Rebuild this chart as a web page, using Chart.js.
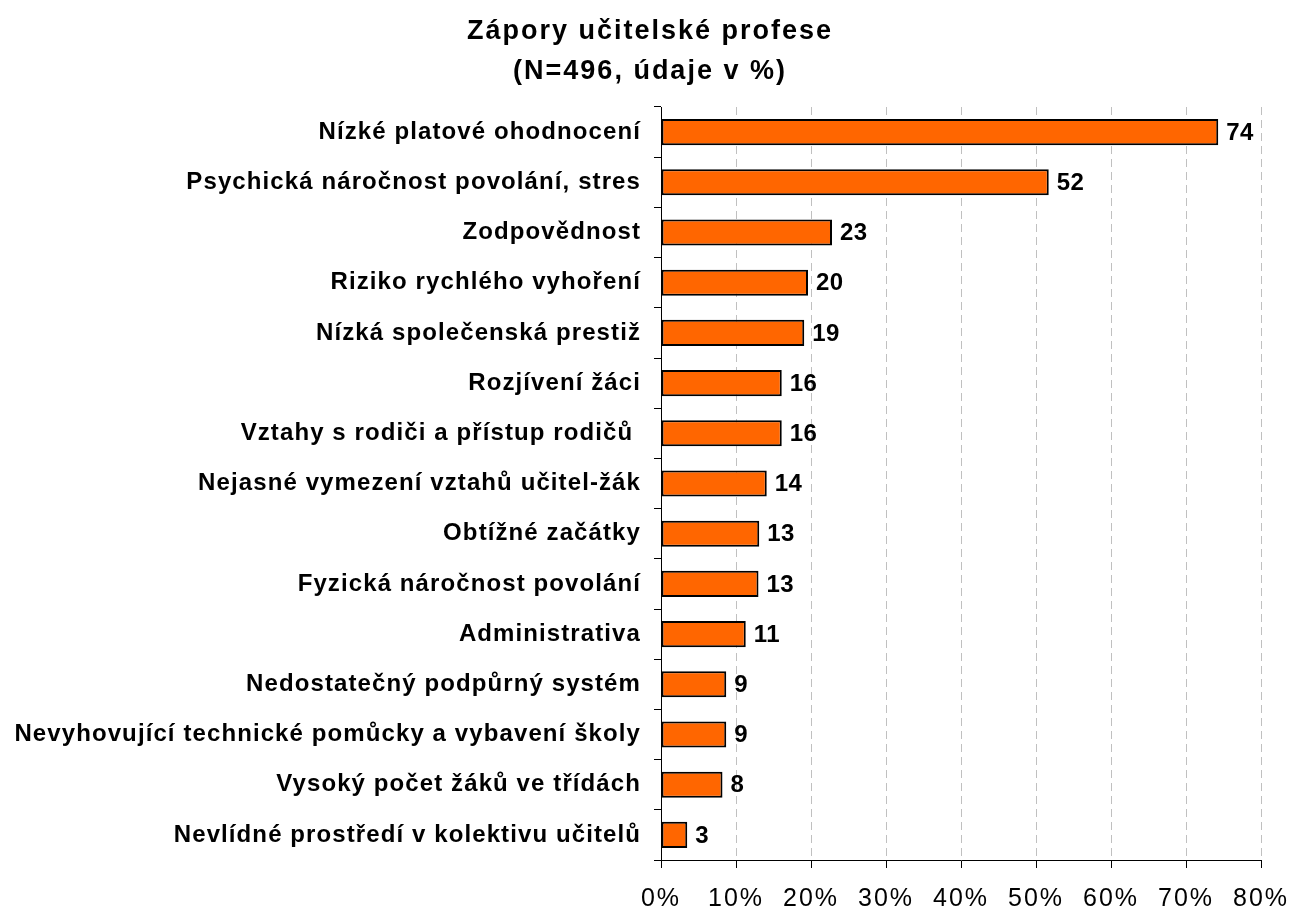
<!DOCTYPE html>
<html>
<head>
<meta charset="utf-8">
<script src="https://cdn.jsdelivr.net/npm/chart.js@4.4.0/dist/chart.umd.min.js"></script>
<style>
  html, body { margin: 0; padding: 0; background: #fff; }
  #wrap { width: 1292px; height: 911px; }
</style>
</head>
<body>
<div id="wrap"><canvas id="chart" width="1292" height="911"></canvas></div>
<script>
// Zápory učitelské profese - horizontal bar chart

const categories = [
    'Nízké platové ohodnocení',
    'Psychická náročnost povolání, stres',
    'Zodpovědnost',
    'Riziko rychlého vyhoření',
    'Nízká společenská prestiž',
    'Rozjívení žáci',
    'Vztahy s rodiči a přístup rodičů ',
    'Nejasné vymezení vztahů učitel-žák',
    'Obtížné začátky',
    'Fyzická náročnost povolání',
    'Administrativa',
    'Nedostatečný podpůrný systém',
    'Nevyhovující technické pomůcky a vybavení školy',
    'Vysoký počet žáků ve třídách',
    'Nevlídné prostředí v kolektivu učitelů'
];

// bar lengths (percent)
const values = [74.3, 51.7, 22.8, 19.6, 19.1, 16.1, 16.1, 14.1, 13.1, 13.0, 11.3, 8.7, 8.7, 8.2, 3.5];

// labels printed next to the bars
const valueLabels = ['74', '52', '23', '20', '19', '16', '16', '14', '13', '13', '11', '9', '9', '8', '3'];

const xTicks = [0, 10, 20, 30, 40, 50, 60, 70, 80];

const FONT = "'Liberation Sans', Arial, sans-serif";

// the original text is a bit spaced out, so give title and tick labels some letter spacing
function withSpacing(obj, method, ls) {
    const orig = obj[method];
    obj[method] = function(...args) {
        const ctx = this.ctx;
        ctx.save();
        ctx.letterSpacing = ls;
        orig.apply(this, args);
        ctx.restore();
    };
}

const spacing = {
    id: 'spacing',
    beforeDraw(chart) {
        if (chart._spaced) return;
        withSpacing(chart.titleBlock, 'draw', '2px');
        withSpacing(chart.scales.x, 'drawLabels', '2px');
        withSpacing(chart.scales.y, 'drawLabels', '1.1px');
        chart._spaced = true;
    }
};

// draws the number at the end of every bar
const barLabels = {
    id: 'barLabels',
    afterDatasetsDraw(chart) {
        const ctx = chart.ctx;
        const meta = chart.getDatasetMeta(0);
        ctx.save();
        ctx.font = 'bold 24px ' + FONT;
        ctx.letterSpacing = '0.5px';
        ctx.fillStyle = '#000';
        ctx.textAlign = 'left';
        ctx.textBaseline = 'middle';
        meta.data.forEach((bar, i) => {
            ctx.fillText(valueLabels[i], bar.x + 8, bar.y + 1);
        });
        ctx.restore();
    }
};

new Chart(document.getElementById('chart').getContext('2d'), {
    type: 'bar',
    data: {
        labels: categories,
        datasets: [{
            data: values,
            backgroundColor: '#FF6600',
            borderColor: '#000000',
            borderWidth: 2,
            borderSkipped: false,
            categoryPercentage: 1,
            barPercentage: 0.52
        }]
    },
    options: {
        indexAxis: 'y',
        responsive: false,
        animation: false,
        events: [],
        layout: {
            padding: { left: 8, right: 0, top: 0, bottom: 0 }
        },
        plugins: {
            legend: { display: false },
            tooltip: { enabled: false },
            title: {
                display: true,
                text: ['Zápory učitelské profese', '(N=496, údaje v %)'],
                color: '#000',
                font: { family: FONT, size: 27, weight: 'bold', lineHeight: 40 / 27 },
                padding: { top: 12, bottom: 15 }
            }
        },
        scales: {
            x: {
                min: 0,
                max: 80,
                afterBuildTicks(scale) {
                    scale.ticks = xTicks.map(v => ({ value: v }));
                },
                afterFit(scale) {
                    scale.height = 51;
                    scale.paddingLeft = 0;
                    scale.paddingRight = 31;
                },
                ticks: {
                    color: '#000',
                    font: { family: FONT, size: 25 },
                    padding: 16,
                    autoSkip: false,
                    maxRotation: 0,
                    callback: v => v + '%'
                },
                grid: {
                    color: '#c0c0c0',
                    lineWidth: 1,
                    tickColor: '#000',
                    tickLength: 8,
                    tickBorderDash: []
                },
                border: {
                    display: true,
                    color: '#000',
                    width: 1,
                    dash: [8, 5]
                }
            },
            y: {
                afterFit(scale) {
                    scale.width = 653;
                },
                ticks: {
                    color: '#000',
                    font: { family: FONT, size: 24, weight: 'bold' },
                    padding: 13,
                    autoSkip: false
                },
                grid: {
                    drawOnChartArea: false,
                    color: '#000',
                    tickLength: 7,
                    offset: true
                },
                border: {
                    display: true,
                    color: '#000',
                    width: 1
                }
            }
        }
    },
    plugins: [spacing, barLabels]
});
</script>
</body>
</html>
